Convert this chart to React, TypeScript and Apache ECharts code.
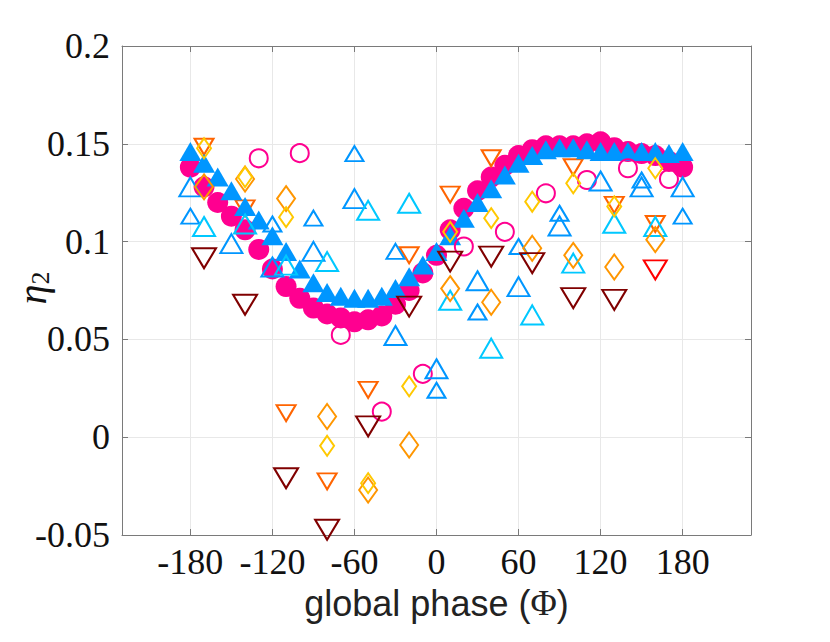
import React, { useEffect, useRef } from "react";
import * as echarts from "echarts";

// ---- data ----
const phases = [-180, -170, -160, -150, -140, -130, -120, -110, -100, -90, -80, -70, -60, -50, -40, -30, -20, -10, 0, 10, 20, 30, 40, 50, 60, 70, 80, 90, 100, 110, 120, 130, 140, 150, 160, 170, 180];
const filledCircleVals = [0.138, 0.128, 0.120, 0.113, 0.106, 0.096, 0.086, 0.077, 0.071, 0.066, 0.063, 0.061, 0.059, 0.060, 0.062, 0.068, 0.075, 0.084, 0.093, 0.106, 0.117, 0.126, 0.133, 0.139, 0.144, 0.147, 0.149, 0.149, 0.149, 0.150, 0.151, 0.148, 0.146, 0.145, 0.144, 0.141, 0.138];
const filledTriVals = [0.146, 0.140, 0.133, 0.126, 0.118, 0.111, 0.103, 0.095, 0.086, 0.079, 0.074, 0.072, 0.071, 0.071, 0.072, 0.076, 0.082, 0.088, 0.095, 0.103, 0.112, 0.120, 0.127, 0.134, 0.140, 0.144, 0.147, 0.148, 0.148, 0.147, 0.146, 0.146, 0.146, 0.146, 0.146, 0.145, 0.146];

const openCirclePhases = [-130, -100, -70, -40, -10, 20, 50, 80, 110, 140, 170];
const openCircleVals = [0.1426, 0.1452, 0.0523, 0.0131, 0.0324, 0.0975, 0.105, 0.1247, 0.1315, 0.1375, 0.132];

const blueLargePhases = [-180, -150, -120, -90, -60, -30, 0, 30, 60, 90, 120, 150, 180];
const blueLargeVals = [0.128, 0.099, 0.087, 0.095, 0.122, 0.052, 0.035, 0.080, 0.077, 0.108, 0.131, 0.128, 0.128];
const blueSmallPhases = [-180, -120, -90, -60, -30, 0, 30, 60, 90, 150, 180];
const blueSmallVals = [0.113, 0.109, 0.112, 0.145, 0.095, 0.024, 0.064, 0.0975, 0.1145, 0.1315, 0.113];

const cyanPhases = [-170, -140, -110, -80, -50, -20, 10, 40, 70, 100, 130, 160];
const cyanVals = [0.1077, 0.109, 0.088, 0.0898, 0.116, 0.1196, 0.070, 0.0455, 0.0625, 0.089, 0.1094, 0.1077];

const diamondPhases = [-170, -140, -110, -80, -50, -20, 10, 40, 70, 100, 130, 160];
const orangeDiamondVals = [0.128, 0.132, 0.122, 0.0106, -0.027, -0.004, 0.076, 0.069, 0.0966, 0.093, 0.087, 0.101];
const goldDiamondVals = [0.1477, 0.133, 0.1125, -0.0044, -0.0235, 0.026, 0.105, 0.112, 0.1204, 0.1298, 0.118, 0.1375];

const darkRedPhases = [-170, -140, -110, -80, -50, -20, 10, 40, 70, 100, 130];
const darkRedVals = [0.0915, 0.0677, -0.021, -0.0473, 0.0055, 0.0668, 0.0898, 0.0923, 0.089, 0.0711, 0.0702];

const orangeRedPhases = [-170, -140, -110, -80, -50, -20, 10, 40, 100, 130, 160];
const orangeRedVals = [0.1485, 0.117, 0.0123, -0.0226, 0.0242, 0.093, 0.124, 0.1426, 0.138, 0.1188, 0.109];

const redPhases = [160];
const redVals = [0.0855];

const xTicks = [-180, -120, -60, 0, 60, 120, 180];
const yTickLabels = ["-0.05", "0", "0.05", "0.1", "0.15", "0.2"];

const pairs = (xs: number[], ys: number[]) => xs.map((x, i) => [x, ys[i]]);

const SERIF = "'Liberation Serif', 'DejaVu Serif', serif";
const SANS = "'Liberation Sans', Arial, sans-serif";

export default function App() {
  const ref = useRef<HTMLDivElement>(null);
  useEffect(() => {
    if (!ref.current) return;
    const chart = echarts.init(ref.current, null, { renderer: "svg" });

    const open = (name: string, xs: number[], ys: number[], symbol: string, size: any, color: string, rotate = 0, z = 3) => ({
      name,
      type: "scatter",
      data: pairs(xs, ys),
      symbol,
      symbolSize: size,
      symbolRotate: rotate,
      z,
      itemStyle: { color: "rgba(0,0,0,0)", borderColor: color, borderWidth: 2, opacity: 1 },
    });

    const axisLineStyle = { color: "#7a7a7a", width: 1 };

    chart.setOption({
      animation: false,
      backgroundColor: "#ffffff",
      grid: { left: 122, right: 79, top: 46, bottom: 107, containLabel: false, outerBoundsMode: "none" },
      graphic: [
        {
          type: "text",
          x: 32,
          y: 288,
          rotation: Math.PI / 2,
          style: {
            text: "{eta|η}{sub|2}",
            align: "center",
            verticalAlign: "middle",
            rich: {
              eta: { fontFamily: SERIF, fontStyle: "italic", fontSize: 40, fill: "#111" },
              sub: { fontFamily: SERIF, fontSize: 26, fill: "#111", padding: [16, 0, 0, 0] },
            },
          },
        },
      ],
      xAxis: [
        {
          type: "value",
          min: -230,
          max: 230,
          position: "bottom",
          axisLine: { show: true, onZero: false, lineStyle: axisLineStyle },
          axisTick: { show: true, inside: true, length: 6, customValues: xTicks, lineStyle: axisLineStyle },
          axisLabel: {
            customValues: xTicks,
            formatter: (v: number) => String(v),
            fontFamily: SERIF,
            fontSize: 36,
            color: "#111",
            margin: 9,
          },
          splitLine: { show: true, lineStyle: { color: "#e8e8e8", width: 1 } },
          name: "global phase ({phi|Φ})",
          nameLocation: "middle",
          nameGap: 50,
          nameTextStyle: {
            fontFamily: SANS,
            fontSize: 36,
            color: "#222",
            rich: { phi: { fontFamily: SERIF, fontSize: 36, color: "#222" } },
          },
        },
        {
          type: "value",
          min: -230,
          max: 230,
          position: "top",
          axisLine: { show: true, onZero: false, lineStyle: axisLineStyle },
          axisTick: { show: true, inside: true, length: 6, customValues: xTicks, lineStyle: axisLineStyle },
          axisLabel: { show: false },
          splitLine: { show: false },
        },
      ],
      yAxis: [
        {
          type: "value",
          min: -0.05,
          max: 0.2,
          interval: 0.05,
          position: "left",
          axisLine: { show: true, onZero: false, lineStyle: axisLineStyle },
          axisTick: { show: true, inside: true, length: 6, lineStyle: axisLineStyle },
          axisLabel: {
            formatter: (v: number) => yTickLabels[Math.round((v + 0.05) / 0.05)] ?? "",
            fontFamily: SERIF,
            fontSize: 36,
            color: "#111",
            margin: 12,
          },
          splitLine: { show: true, lineStyle: { color: "#e8e8e8", width: 1 } },
        },
        {
          type: "value",
          min: -0.05,
          max: 0.2,
          interval: 0.05,
          position: "right",
          axisLine: { show: true, onZero: false, lineStyle: axisLineStyle },
          axisTick: { show: true, inside: true, length: 6, lineStyle: axisLineStyle },
          axisLabel: { show: false },
          splitLine: { show: false },
        },
      ],
      series: [
        {
          name: "filled circles",
          type: "scatter",
          data: pairs(phases, filledCircleVals),
          symbol: "circle",
          symbolSize: 21,
          z: 2,
          itemStyle: { color: "#ff0090", opacity: 1 },
        },
        open("orange-red", orangeRedPhases, orangeRedVals, "triangle", [19, 16], "#ff6400", 180, 2),
        {
          name: "filled triangles",
          type: "scatter",
          data: pairs(phases, filledTriVals),
          symbol: "triangle",
          symbolSize: [22, 19],
          z: 3,
          itemStyle: { color: "#0096ff", opacity: 1 },
        },
        open("open circles", openCirclePhases, openCircleVals, "circle", 18, "#ff0090", 0, 4),
        open("blue large", blueLargePhases, blueLargeVals, "triangle", [22, 19], "#0096ff", 0, 4),
        open("blue small", blueSmallPhases, blueSmallVals, "triangle", [18, 15], "#0096ff", 0, 4),
        open("cyan", cyanPhases, cyanVals, "triangle", [22, 19], "#00c8ff", 0, 4),
        open("orange diamonds", diamondPhases, orangeDiamondVals, "diamond", [18, 25], "#ff9600", 0, 4),
        open("gold diamonds", diamondPhases, goldDiamondVals, "diamond", [14, 20], "#ffc800", 0, 4),
        open("dark red", darkRedPhases, darkRedVals, "triangle", [24, 20], "#800000", 180, 4),
        open("red", redPhases, redVals, "triangle", [23, 19], "#ff0000", 180, 4),
      ],
    });
    return () => chart.dispose();
  }, []);
  return <div ref={ref} style={{ width: 830, height: 642, margin: -8 }} />;
}
